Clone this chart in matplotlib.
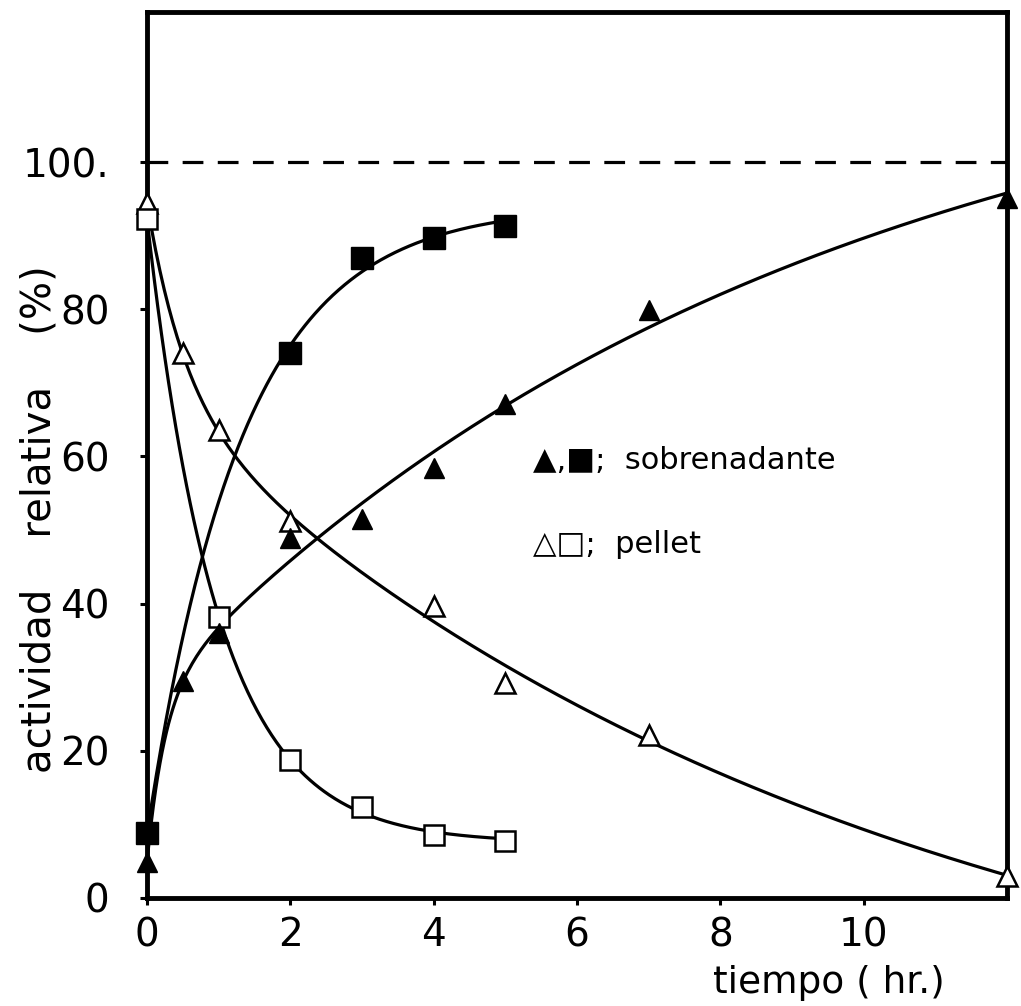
import numpy as np
import matplotlib
matplotlib.use("Agg")
import matplotlib.pyplot as plt

# Actividad relativa (%) frente al tiempo (hr.)
t_sob_tri = [0, 0.5, 1, 2, 3, 4, 5, 7, 12]
y_sob_tri = [4.9, 29.5, 36.0, 48.9, 51.5, 58.4, 67.1, 79.9, 95.1]
t_sob_sq = [0, 2, 3, 4, 5]
y_sob_sq = [8.8, 74.0, 87.0, 89.7, 91.3]
t_pel_tri = [0, 0.5, 1, 2, 4, 5, 7, 12]
y_pel_tri = [94.4, 74.0, 63.6, 51.2, 39.7, 29.2, 22.1, 3.0]
t_pel_sq = [0, 1, 2, 3, 4, 5]
y_pel_sq = [92.3, 38.2, 18.8, 12.4, 8.6, 7.7]

x_ticks = [0, 2, 4, 6, 8, 10]
y_ticks = [0, 20, 40, 60, 80, 100]
y_ticklabels = ["0", "20", "40", "60", "80", "100."]
ref_level = 100


def fit_curve(t, y, basis_sets):
    """Least-squares fit of y = a + sum(c_i * exp(-k_i t)) over a grid of rates.

    All exponential terms are required to share one sign, so the fitted
    curve stays monotonic."""
    t = np.asarray(t, float)
    y = np.asarray(y, float)
    best = None
    for rates in basis_sets:
        A = np.column_stack([np.ones_like(t)] + [np.exp(-k * t) for k in rates])
        coef, *_ = np.linalg.lstsq(A, y, rcond=None)
        c = coef[1:]
        if not (np.all(c >= 0) or np.all(c <= 0)):
            continue
        err = np.sum((A @ coef - y) ** 2)
        if best is None or err < best[0]:
            best = (err, rates, coef)
    _, rates, coef = best

    def model(tt):
        tt = np.asarray(tt, float)
        out = coef[0] * np.ones_like(tt)
        for c, k in zip(coef[1:], rates):
            out = out + c * np.exp(-k * tt)
        return out
    return model


single = [(k,) for k in np.linspace(0.05, 4, 400)]
double = [(k1, k2)
          for k1 in np.linspace(0.01, 0.6, 60)
          for k2 in np.linspace(0.8, 8, 73)]
double_fast = [(k1, k2)
               for k1 in np.linspace(0.1, 1.2, 45)
               for k2 in np.linspace(1.2, 4.0, 57)]

f_sob_tri = fit_curve(t_sob_tri, y_sob_tri, double)
f_pel_tri = fit_curve(t_pel_tri, y_pel_tri, double)
f_sob_sq = fit_curve(t_sob_sq, y_sob_sq, double_fast + single)
f_pel_sq = fit_curve(t_pel_sq, y_pel_sq, single)

plt.rcParams["font.family"] = ["DejaVu Sans"]

fig = plt.figure(figsize=(10.21, 10.06), dpi=100)
ax = fig.add_axes([0.144, 0.1074, 0.8423, 0.8807])

lw_curve = 2.3
tt_long = np.linspace(0, max(t_sob_tri), 400)
tt_short = np.linspace(0, max(t_sob_sq), 300)
ax.plot(tt_long, f_sob_tri(tt_long), color="k", lw=lw_curve, zorder=2)
ax.plot(tt_long, f_pel_tri(tt_long), color="k", lw=lw_curve, zorder=2)
ax.plot(tt_short, f_sob_sq(tt_short), color="k", lw=lw_curve, zorder=2)
ax.plot(tt_short, f_pel_sq(tt_short), color="k", lw=lw_curve, zorder=2)

ax.axhline(ref_level, color="k", lw=2.3, ls=(0, (6.5, 4.5)), zorder=1)

ax.plot(t_pel_tri, y_pel_tri, ls="none", marker="^", ms=14, mfc="white",
        mec="k", mew=1.8, clip_on=False, zorder=4)
ax.plot(t_pel_sq, y_pel_sq, ls="none", marker="s", ms=15, mfc="white",
        mec="k", mew=1.8, clip_on=False, zorder=4)
ax.plot(t_sob_tri, y_sob_tri, ls="none", marker="^", ms=14, mfc="k",
        mec="k", clip_on=False, zorder=5)
ax.plot(t_sob_sq, y_sob_sq, ls="none", marker="s", ms=16, mfc="k",
        mec="k", clip_on=False, zorder=5)

ax.set_xlim(0, 12)
ax.set_ylim(0, 120.4)
ax.set_xticks(x_ticks)
ax.set_yticks(y_ticks)
ax.set_yticklabels(y_ticklabels)
ax.tick_params(axis="both", direction="out", length=5, width=2.2, labelsize=28)
ax.tick_params(axis="y", pad=22)
ax.tick_params(axis="x", pad=8)
for s in ax.spines.values():
    s.set_linewidth(3.5)

ax.text(5.38, 59.5, "▲,■;  sobrenadante", fontsize=22, ha="left", va="center")
ax.text(5.38, 48.0, "△□;  pellet", fontsize=22, ha="left", va="center")

fig.text(40 / 1021, 1 - 519 / 1006, "actividad    relativa    (%)",
         rotation=90, fontsize=29, ha="center", va="center")
fig.text(829 / 1021, 1 - 983 / 1006, "tiempo ( hr.)", fontsize=27,
         ha="center", va="center")

fig.savefig("out.png", dpi=100, facecolor="white")
